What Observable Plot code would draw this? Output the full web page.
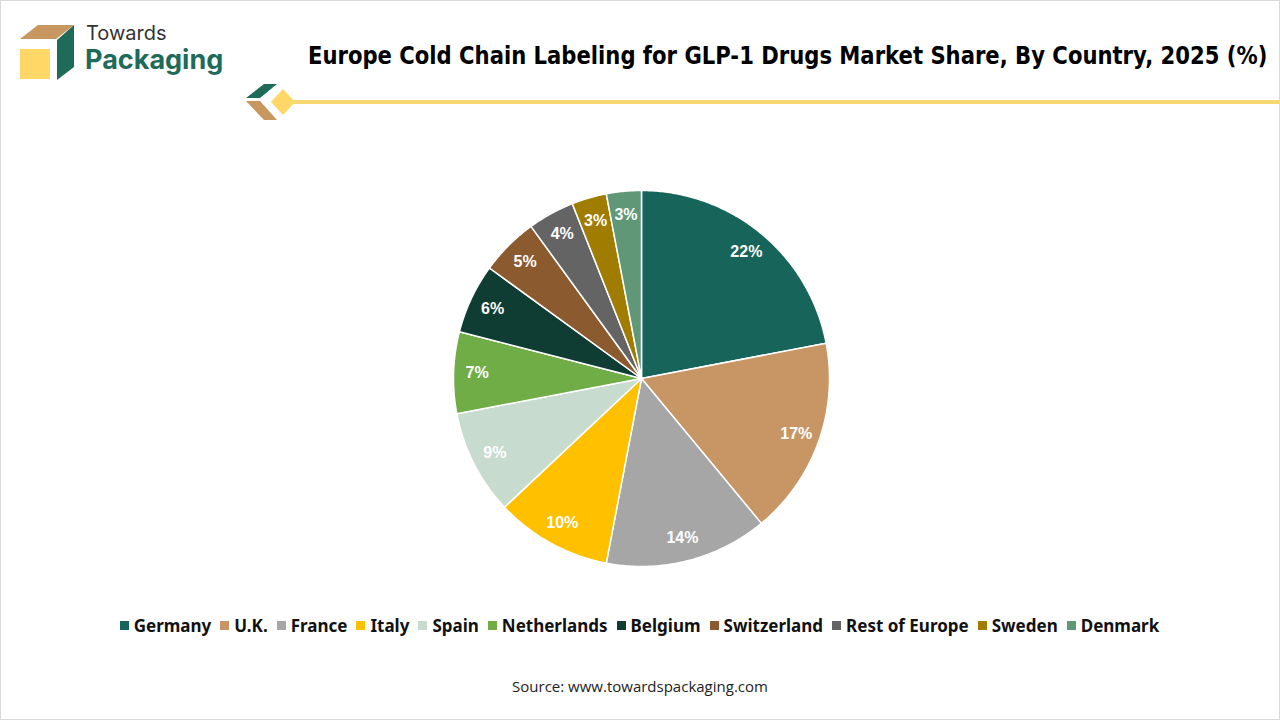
<!DOCTYPE html>
<html><head><meta charset="utf-8">
<script src="https://cdn.jsdelivr.net/npm/d3@7"></script>
<script src="https://cdn.jsdelivr.net/npm/@observablehq/plot@0.6"></script>
<style>
html,body{margin:0;padding:0;background:#fff;}
#page{position:relative;width:1278px;height:718px;border:1px solid #d9d9d9;overflow:hidden;font-family:"Noto Sans",sans-serif;}
#pie{position:absolute;left:451px;top:188px;}
#legend{position:absolute;left:8px;width:1270px;top:608px;}
.lg-swatches-wrap{justify-content:center;}
.lg-swatch{margin-right:9px !important;font-family:"Noto Sans",sans-serif;font-weight:700;font-size:17px;color:#111;}
.lg-swatch > svg{margin-right:5px !important;}
#source{position:absolute;left:0;width:1278px;top:675px;text-align:center;font-family:"Open Sans",sans-serif;font-size:15px;color:#222;}
</style></head>
<body>
<div id="page">
  <svg style="position:absolute;left:0;top:0" width="300" height="130">
    <polygon points="19,38 37,24 73,24 55,38" fill="#c8965f"/>
    <polygon points="56,39 73,24 73,66 56,79" fill="#1e6b5a"/>
    <rect x="19" y="48" width="30" height="30" fill="#fed766"/>
    <text x="85" y="39" font-family="Inter, sans-serif" font-size="20" fill="#333">Towards</text>
    <text x="84" y="68" font-family="Inter, sans-serif" font-weight="700" font-size="27" fill="#1e6b5a">Packaging</text>
    <polygon points="245,97 263,83 276,83 259,97" fill="#1e6b5a"/>
    <polygon points="245,100 259,100 276,119 263,119" fill="#c8965f"/>
    <polygon points="270,101 282,88 294,101 282,114" fill="#fed766"/>
  </svg>
  <svg style="position:absolute;left:300px;top:30px" width="975" height="45">
    <text id="title" x="0" y="0" font-family="'DejaVu Sans', sans-serif" font-weight="bold" font-size="24" fill="#000">Europe Cold Chain Labeling for GLP-1 Drugs Market Share, By Country, 2025 (%)</text>
  </svg>
  <div style="position:absolute;left:290px;top:99px;width:990px;height:4px;background:#f7d873"></div>
  <div id="pie"></div>
  <div id="legend"></div>
  <div id="source">Source: www.towardspackaging.com</div>
</div>
<script>
const countries = ["Germany","U.K.","France","Italy","Spain","Netherlands","Belgium","Switzerland","Rest of Europe","Sweden","Denmark"];
const shares = [22,17,14,10,9,7,6,5,4,3,3];
const colors = ["#17645a","#c89664","#a6a6a6","#ffc000","#c8dbcf","#70ad47","#0f3d33","#8b5a2e","#646464","#a07c00","#5f9777"];

const t = document.getElementById("title");
const len = t.getComputedTextLength();
t.setAttribute("transform", `translate(7,33) scale(${960 / len},1)`);

const pie = d3.pie().sort(null).value(d => d.value)(countries.map((c, i) => ({country: c, value: shares[i]})));
const toXY = (a, r) => [r * Math.sin(a), -r * Math.cos(a)];
const slices = pie.map(p => {
  const pts = [[0, 0]];
  const n = Math.max(2, Math.ceil((p.endAngle - p.startAngle) / 0.01));
  for (let k = 0; k <= n; k++) pts.push(toXY(p.startAngle + (p.endAngle - p.startAngle) * k / n, 1));
  pts.push([0, 0]);
  return {type: "Feature", properties: {country: p.data.country}, geometry: {type: "Polygon", coordinates: [pts]}};
});
const labels = pie.map(p => {
  const [x, y] = toXY((p.startAngle + p.endAngle) / 2, 0.875);
  return {x, y, text: p.data.value + "%"};
});

const chart = Plot.plot({
  width: 378, height: 378, margin: 1,
  projection: {type: "identity", domain: {type: "MultiPoint", coordinates: [[-1, -1], [1, 1]]}},
  color: {domain: countries, range: colors},
  marks: [
    Plot.geo(slices, {fill: d => d.properties.country, stroke: "#fff", strokeWidth: 1.5}),
    Plot.text(labels, {x: "x", y: "y", text: "text", fill: "#fff", fontSize: 16, fontWeight: "bold", fontFamily: "Liberation Sans, Arial, sans-serif"})
  ]
});
document.getElementById("pie").appendChild(chart);

const legend = Plot.legend({color: {type: "ordinal", domain: countries, range: colors}, swatchSize: 9, className: "lg"});
document.getElementById("legend").appendChild(legend);
</script>
</body></html>
